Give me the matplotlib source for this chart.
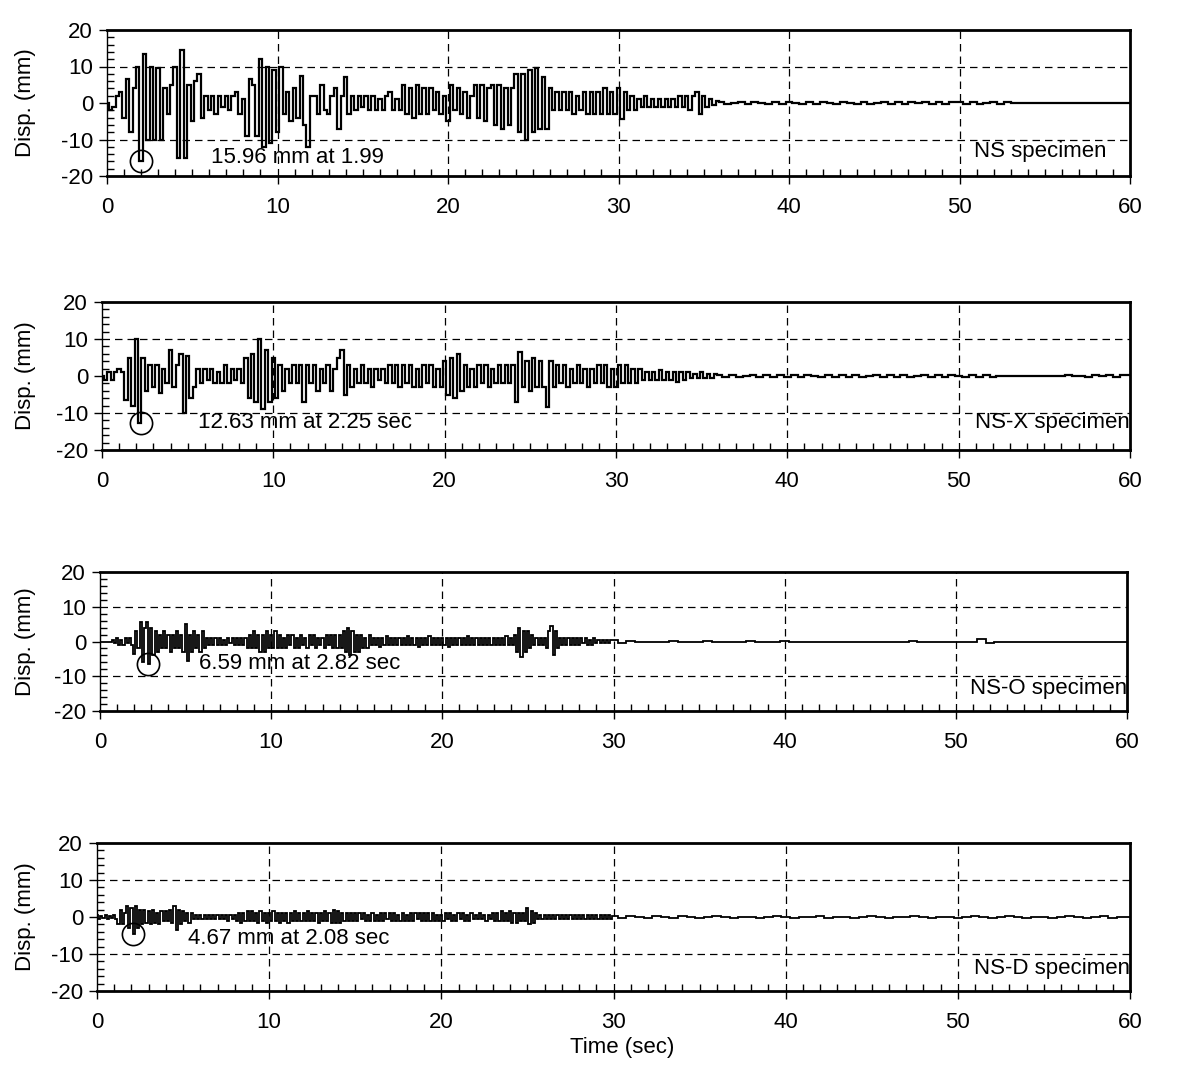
import numpy as np
import matplotlib
matplotlib.use("Agg")
import matplotlib.pyplot as plt
from matplotlib.ticker import MultipleLocator

plt.rcParams['font.family'] = ['Liberation Sans', 'DejaVu Sans']
plt.rcParams['axes.unicode_minus'] = False

# ---------------- data (displacement, mm) ----------------
# NS specimen: 0-36 s sampled every 0.2 s, tail sampled every 0.4 s
ns_dt, ns_tail_dt = 0.2, 0.4
ns_main = [
    0, -2, -1, 2, 3,          # 0 s
    -4, 6.5, -8, 4, 10,       # 1
    -16, 13.5, -10, 10, -10,  # 2
    9.5, -10, 4, -3, 5,       # 3
    10, -15, 14.5, -15, 5,    # 4
    -5, 6, 8, -4, 2,          # 5
    -2, 2, -3, 2, -1,         # 6
    2, -2, 2, 3, -3,          # 7
    1, -9, 6.5, 5, -9,        # 8
    12, -12, 10, -11, 9,      # 9
    -8, 10, -3, 3, -5,        # 10
    4, -4, 7.5, -6, -12,      # 11
    2, 2, -3, 5, -2,          # 12
    -3, 2, 4, -7, 2,          # 13
    7, -3, 2, -2, 2,          # 14
    -1, 2, -2, 2, -2,         # 15
    1, -2, 2, 3, -2,          # 16
    1, -2, 5, -3, 4,          # 17
    -4, 5, -3, 4, -3,         # 18
    4, -2, 3, -3, 2,          # 19
    -5, 5, -2, 4, -3,         # 20
    3, -4, 2, 5, -4,          # 21
    5, -5, 4, 5, -6,          # 22
    5, -7, 4, -6, 4,          # 23
    8, -8, 8, -10, 9,         # 24
    -8, 9.5, -7, 7, -7,       # 25
    4, -2, 3, -2, 3,          # 26
    -2, 3, -3, 2, -2,         # 27
    3, -3, 3, -3, 3,          # 28
    -3, 4, -3, 3, -3,         # 29
    4, -4.5, 3, -2, 2,        # 30
    -2, 1, -1, 2, -1,         # 31
    1, -1, 1, -1, 1,          # 32
    -1, 1, -1, 2, -1,         # 33
    2, -2, 2, 3, -3,          # 34
    2, -1, 1, -0.5, 0.5,      # 35
]
ns_tail = [
    0.4, -0.4, 0, 0.3, -0.4, 0.3, 0, -0.3, 0.4, -0.3,
    0.3, 0, -0.3, 0.4, -0.3, 0.3, 0, -0.3, 0.3, 0,
    -0.3, 0.4, -0.3, 0, 0.3, -0.4, 0.3, -0.3, 0.3, 0,
    0.4, -0.3, 0.3, -0.3, 0.4, 0.3, -0.3, 0.3, -0.3, 0,
    0.3, -0.3, 0.3, 0, 0, 0, 0, 0, 0, 0,
    0, 0, 0, 0, 0, 0, 0, 0, 0, 0,
]

# NS-X specimen
nsx_dt, nsx_tail_dt = 0.2, 0.4
nsx_main = [
    0, -1, 1, -1, 1,          # 0 s
    2, 1, -6.5, 5, -8,        # 1
    10, -12.6, 5, -4, 3,      # 2
    -3, 3, -4.5, 2, -2,       # 3
    7, -3, 3, 6, -10,         # 4
    5.5, -6, -3, 2, -2,       # 5
    2, -1, 2, -2, 1,          # 6
    -2, 3, -2, 2, -1,         # 7
    2, -2, 5, -6, 6,          # 8
    -7, 10, -9, 7, -7,        # 9
    5, -6, 3, -4, 2,          # 10
    -2, 3, -2, 3, -7,         # 11
    3, -2, 3, -4, 2,          # 12
    -2, 3, -4, 2, 5,          # 13
    7, -5, 3, -3, 2,          # 14
    -2, 3, -2, 2, -3,         # 15
    2, -1, 2, -2, 3,          # 16
    -2, 3, -3, 3, -2,         # 17
    3, -3, 2, -3, 3,          # 18
    -2, 3, -3, 2, -3,         # 19
    4, -5, 5, -6, 6,          # 20
    -4, 3, -3, 2, -3,         # 21
    3, -2, 3, -3, 2,          # 22
    -2, 3, -2, 3, -2,         # 23
    3, -7, 6.5, -3, 4,        # 24
    -4, 5, -3, 4, -3,         # 25
    -8.5, 4, -3, 3, -2,       # 26
    3, -3, 2, -2, 3,          # 27
    -2, 2, -3, 2, -2,         # 28
    3, -2, 3, -3, 2,          # 29
    -3, 3, -2, 3, -2,         # 30
    2, -2, 2, -1, 1,          # 31
    -1, 1, -1, 1.5, -1,       # 32
    1, -1, 1, -1.5, 1,        # 33
    -1, 1, -0.5, 0.5, -0.5,   # 34
    1, -0.5, 0.5, -0.5, 0.5,  # 35
]
nsx_tail = [
    0.3, -0.3, 0.3, -0.3, 0, 0.3, -0.3, 0.3, -0.3, 0.3,
    -0.3, 0.3, -0.3, 0.3, 0, -0.3, 0.3, -0.3, 0.3, -0.3,
    0.3, -0.3, 0, 0.3, -0.3, 0.3, -0.3, 0.3, -0.3, 0,
    0.3, -0.3, 0.3, -0.3, 0.3, 0, -0.3, 0.3, -0.3, 0.3,
    -0.3, 0, 0, 0, 0, 0, 0, 0, 0, 0,
    0, 0.3, 0, 0, -0.3, 0.3, 0, 0.3, -0.3, 0.3,
]

# NS-O specimen: 0-30 s sampled every 0.125 s, tail every 0.5 s
nso_dt, nso_tail_dt = 0.125, 0.5
nso_main = [
    0, 0, 0, 0, 0, 0, 0.5, -0.5,            # 0 s
    1, -1, 0.5, -1, 1, -0.5, 1, -1,         # 1
    -3.5, 3, -2, 5.5, -6, 4, 5.5, -6.6,     # 2
    4, -4, 3, -3, 2, -2, 3, -2,             # 3
    2, -3, 2, -2, 3, -2, 2, -3,             # 4
    5, -5.5, 2, -3, 3, -2, 2, -3,           # 5
    3, -2, 1, -1, 1, -1, 1, -1,             # 6
    1, -1, 0.5, -1, 1, -0.5, 1, -1,         # 7
    1, -1, 1, -1, 1, -2, 2, -2,             # 8
    3, -2, 2, -3, 2, -3, 3, -2,             # 9
    2, -2, 3, -2, 2, -2, 1, -2,             # 10
    2, -1, 2, -2, 1, -2, 2, -1,             # 11
    1, -2, 2, -1, 2, -2, 1, -1,             # 12
    1, -2, 2, -1, 2, -2, 2, -2,             # 13
    2, -2, 3, -3, 4, -4, 3, -3,             # 14
    2, -3, 2, -2, 1, -2, 2, -1,             # 15
    1, -1, 1, -1.5, 1, -1, 1.5, -1,         # 16
    1, -1, 1, -1, 1, -1, 1, -1,             # 17
    1.5, -1, 1, -1, 1, -1.5, 1, -1,         # 18
    1, -1, 1.5, -1, 1, -1, 1, -1,           # 19
    1, -1, 1, -1.5, 1, -1, 1, -1,           # 20
    1, -1, 1, -1, 1.5, -1, 1, -1,           # 21
    1, -1, 1, -1, 1, -1, 1, -1,             # 22
    1, -1, 1, -1, 1, -1, 1.5, -1,           # 23
    1, -1, 2, -3, 4, -4.5, 3, -3,           # 24
    3, -2, 2, -1, 1, -1, 1, -1,             # 25
    1, -2, 3, 4.5, -4, 3, -2, 1,            # 26
    -1, 1, -1, 1, -1, 1, -1, 1,             # 27
    -1, 1, -0.5, 1, -1, 0.5, -1, 1,         # 28
    -0.5, 0.5, -0.5, 0.5, -0.5, 0.5, -0.5, 0.5,  # 29
]
nso_tail = [
    0.3, -0.3, 0.2, -0.2, 0, -0.2, 0, 0.2, 0, -0.2,
    0, 0.2, 0, -0.2, 0, 0, 0.2, 0, 0, 0,
    0.2, 0, 0, 0, -0.2, 0, 0, 0, 0, 0,
    0, 0, 0, 0, 0, 0.2, 0, 0, 0, 0,
    0, 0, 0, 0.8, -0.4, 0, 0, 0, 0, 0,
    0, 0, 0, 0, 0, 0, 0, 0, 0, 0,
]

# NS-D specimen
nsd_dt, nsd_tail_dt = 0.125, 0.5
nsd_main = [
    0.5, -0.5, 0.3, -0.3, 0.5, -0.5, 0.3, -0.3,   # 0 s
    0.5, -0.5, -2, 2, -2, 1, 3, -3,               # 1
    2.5, -4.67, 3, -3, 2, -2, 2, -1.5,            # 2
    1.5, -2, 2, -1.5, 1, -2, 1.5, -1,             # 3
    1.5, -1, 2, -1.5, 3, -3.5, 2, -2,             # 4
    1.5, -1, 1, -1.5, 1, -0.5, 0.5, -0.5,         # 5
    0.5, -0.5, 0.5, -0.5, 0.5, -0.5, 0.5, -0.5,   # 6
    0.5, -0.5, 0.5, -0.5, 0.5, -1, 0.5, -0.5,     # 7
    0.5, -1, 1, -1.5, 1, -1, 1.5, -1,             # 8
    1.5, -1, 1, -1.5, 1.5, -1, 1, -1.5,           # 9
    1, -1, 1.5, -1, 1, -1.5, 1, -1,               # 10
    1, -1.5, 1, -1, 1.5, -1, 1, -1,               # 11
    1, -1, 1.5, -1, 1, -1, 1, -1.5,               # 12
    1, -1, 1.5, -1, 1, -1.5, 2, -1.5,             # 13
    1.5, -1.5, 1, -1, 1, -1, 1, -1,               # 14
    1, -1, 1, -0.5, 1, -1, 0.5, -1,               # 15
    1, -1, 0.5, -1, 1, -1, 1, -0.5,               # 16
    1, -1, 1, -1, 0.5, -1, 1, -1,                 # 17
    0.5, -1, 1, -1, 1, -0.5, 1, -1,               # 18
    1, -1, 1, -1, 1, -1, 0.5, -1,                 # 19
    0.5, -1, 1, -0.5, 1, -1, 0.5, -1,             # 20
    1, -0.5, 1, -1, 0.5, -1, 1, -0.5,             # 21
    0.5, -0.5, 1, -0.5, 0.5, -1, 0.5, -0.5,       # 22
    1, -1, 1, -1, 1.5, -1, 1, -1,                 # 23
    1.5, -1.5, 1, -1.5, 1, -1, 1, -1,             # 24
    2.5, -2, 1.5, -1.5, 1, -0.5, 0.5, -0.5,       # 25
    0.5, -0.5, 0.5, -0.5, 0.5, -0.5, 0.5, -0.5,   # 26
    0.5, -0.5, 0.5, -0.5, 0.5, -0.5, 0.5, -0.5,   # 27
    0.5, -0.5, 0.5, -0.5, 0.5, -0.5, 0.5, -0.5,   # 28
    0.5, -0.5, 0.5, -0.5, 0.5, -0.5, 0.5, -0.5,   # 29
]
nsd_tail = [
    0.3, -0.3, 0.2, 0, -0.2, 0.2, 0, -0.2, 0.2, 0,
    -0.2, 0, 0.2, 0, -0.2, 0, 0, -0.2, 0, 0.2,
    0, -0.2, 0, 0, 0.2, -0.2, 0, 0, -0.2, 0,
    0.2, 0, -0.2, 0, 0, 0.2, 0, -0.2, 0, 0,
    -0.2, 0, 0.2, 0, -0.2, 0, 0.2, 0, -0.2, 0,
    0, -0.2, 0, 0.2, 0, -0.2, 0, 0.2, -0.2, 0,
]

specimen_labels = ["NS specimen", "NS-X specimen", "NS-O specimen", "NS-D specimen"]
peak_times = [1.99, 2.25, 2.82, 2.08]
peak_values = [-15.96, -12.63, -6.59, -4.67]
peak_texts = ["15.96 mm at 1.99", "12.63 mm at 2.25 sec",
              "6.59 mm at 2.82 sec", "4.67 mm at 2.08 sec"]
x_ticks = [0, 10, 20, 30, 40, 50, 60]
y_ticks = [-20, -10, 0, 10, 20]

series = [
    (ns_main, ns_dt, ns_tail, ns_tail_dt, 1.6),
    (nsx_main, nsx_dt, nsx_tail, nsx_tail_dt, 1.6),
    (nso_main, nso_dt, nso_tail, nso_tail_dt, 1.3),
    (nsd_main, nsd_dt, nsd_tail, nsd_tail_dt, 1.3),
]

# ---------------- layout ----------------
W, H = 1184, 1076
fig = plt.figure(figsize=(W / 100, H / 100), dpi=100)
boxes = [  # left, right, top, bottom in pixels
    (107, 1130, 30, 176),
    (102, 1130, 302, 450),
    (100, 1127, 572, 711),
    (97, 1130, 843, 991),
]
label_pos = [  # (x start of peak text, y of peak text, y of specimen text, specimen x end)
    (6.1, -15.0, -13.2, 58.6),
    (5.6, -12.7, -12.7, 60.0),
    (5.8, -6.2, -13.4, 60.0),
    (5.3, -5.7, -14.0, 60.0),
]
FS = 16

for i, (main, dt, tail, tdt, lw) in enumerate(series):
    l, r, t, b = boxes[i]
    ax = fig.add_axes([l / W, 1 - b / H, (r - l) / W, (b - t) / H])
    main = np.asarray(main, float)
    tail = np.asarray(tail, float)
    tm = np.arange(len(main)) * dt
    tt = tm[-1] + dt + np.arange(len(tail)) * tdt
    tt = tt[tt <= 60]
    tail = tail[:len(tt)]
    time = np.concatenate([tm, tt, [60.0]])
    disp = np.concatenate([main, tail, [tail[-1]]])
    ax.plot(time, disp, color='black', lw=lw, drawstyle='steps-mid', zorder=3,
            solid_joinstyle='miter')

    ax.plot([peak_times[i]], [peak_values[i]], marker='o', ms=16,
            mfc='none', mec='black', mew=1.2, zorder=4, clip_on=False)
    px, py, sy, sx = label_pos[i]
    ax.text(px, py, peak_texts[i], fontsize=FS, va='center', ha='left', zorder=5)
    ax.text(sx, sy, specimen_labels[i], fontsize=FS, va='center', ha='right',
            zorder=5, clip_on=True)

    ax.set_xlim(0, 60)
    ax.set_ylim(-20, 20)
    ax.set_xticks(x_ticks)
    ax.set_yticks(y_ticks)
    ax.xaxis.set_minor_locator(MultipleLocator(1))
    ax.yaxis.set_minor_locator(MultipleLocator(2))
    ax.tick_params(axis='both', which='major', direction='out', length=6,
                   width=1, labelsize=FS, color='black')
    ax.tick_params(axis='x', which='major', pad=9)
    ax.tick_params(axis='y', which='major', pad=4)
    ax.tick_params(axis='both', which='minor', direction='in', length=5, width=1)
    ax.tick_params(top=False, right=False, which='both')

    for x in x_ticks[1:-1]:
        ax.axvline(x, color='black', lw=0.9, ls=(0, (6, 4)), zorder=1)
    for y in (-10, 10):
        ax.axhline(y, color='black', lw=0.9, ls=(0, (6, 4)), zorder=1)

    ax.spines['left'].set_linewidth(1.0)
    for s in ('top', 'right', 'bottom'):
        ax.spines[s].set_linewidth(2.0)

    ax.set_ylabel("Disp. (mm)", fontsize=FS)
    ax.yaxis.set_label_coords(-(l - 36) / (r - l), 0.5)
    if i == 3:
        ax.set_xlabel("Time (sec)", fontsize=FS)
        ax.xaxis.set_label_coords((622 - l) / (r - l), -(1037 - b) / (b - t))

fig.savefig("out.png", dpi=100)
